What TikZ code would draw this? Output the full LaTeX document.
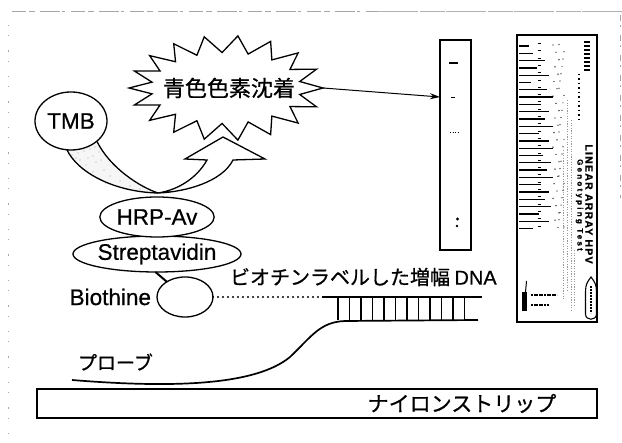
\documentclass[tikz,border=0pt]{standalone}
\usepackage{fontspec}
\setmainfont{Liberation Sans}[FakeBold=0.6]
\newfontfamily\jfont{Noto Sans CJK JP}[FakeBold=0.8]
\newfontfamily\stripfont[LetterSpace=12,FakeBold=1]{Liberation Sans}
\newfontfamily\stripfontwide[LetterSpace=28,FakeBold=1]{Liberation Sans}
\usetikzlibrary{shapes.geometric,arrows.meta,calc,backgrounds}

\begin{document}
\begin{tikzpicture}[x=1pt,y=-1pt,
  every node/.style={inner sep=0pt,outer sep=0pt},
  outline/.style={line width=1.3pt},
  oval/.style={draw,ellipse,outline,fill=white},
  lbl/.style={font=\fontsize{22.5}{22.5}\selectfont},
  jlbl/.style={font=\jfont\fontsize{20}{20}\selectfont},
  strand/.style={line width=1.7pt},
  rung/.style={line width=1.3pt},
  scan/.style={gray!70,line width=0.6pt},
  fineprint/.style={gray!80,line width=0.9pt,dash pattern=on 1.2pt off 1.4pt}
]
\useasboundingbox (0,0) rectangle (622,443);

% scanner edge marks
\draw[scan,dash pattern=on 14pt off 3pt on 6pt off 5pt on 20pt off 2pt on 3pt off 6pt] (12,11) -- (378,11);
\draw[gray!60,line width=0.9pt,dash pattern=on 40pt off 2pt on 25pt off 1pt] (378,11) -- (622,11);
\draw[scan,dash pattern=on 1.5pt off 9pt on 1pt off 14pt] (8,25) -- (8,440);
\draw[scan,dash pattern=on 6pt off 4pt on 2pt off 8pt] (620,15) -- (620,198);

% TMB and the curved reaction arrow
\node[oval,minimum width=72pt,minimum height=58pt,lbl] (tmb) at (71,121) {TMB};
\coordinate (cross) at (158,193);
\begin{scope}[on background layer]
  \fill[gray!7] (tmb.262) .. controls (78,173) and (115,192) .. (cross)
        .. controls (140,187) and (110,168) .. (tmb.-38) -- cycle;
  \foreach \px/\py in {72/155,78/153,84/151,90/149,95/147,80/160,88/158,93/156,
                       86/165,96/162,101/160,93/172,104/170,110/176,120/181,130/186,140/189,
                       76/158,99/152,106/183}
    \fill[gray!70] (\px,\py) circle (0.55pt);
\end{scope}
\draw[outline] (tmb.262) .. controls (78,173) and (115,192) .. (cross);
\draw[outline] (tmb.-38) .. controls (110,168) and (140,187) .. (cross);
\draw[outline,fill=white,line join=miter]
  (cross) .. controls (185,192) and (222,182) .. (233,160) -- (265,159) -- (223,137)
  -- (185,159) -- (207,160) .. controls (197,178) and (178,190) .. (cross) -- cycle;

% blue stain burst
\draw[outline,fill=white,line join=miter]
  plot[variable=\a,samples at={0,10,...,350}]
  ({226+(86+11*cos(18*\a))*cos(\a+3*sin(37*\a))},{88+(44+8.5*cos(18*\a))*sin(\a+3*sin(37*\a))})
  -- cycle;
\coordinate (burstR) at (323,88);
\node[jlbl,font=\jfont\fontsize{22}{22}\selectfont] (stain) at (229,88) {青色色素沈着};

% developed test strip
\node[draw,outline,minimum width=31pt,minimum height=210pt] (strip1) at (455.5,145) {};
\draw[line width=2.2pt] (449,63) -- (458,63);
\draw[line width=1pt] (451,98) -- (455,98);
\draw[line width=1pt,dash pattern=on 1pt off 1.5pt] (450,133) -- (458,133);
\fill (457.5,219) circle (1.6pt);
\fill (457,226) circle (1.3pt);
\draw[line width=1pt,-{Stealth[length=10pt,width=6pt]}] (burstR) -- ($(strip1.north west)+(0,57)$);

% LINEAR ARRAY reference card
\node[draw,outline,minimum width=80pt,minimum height=287pt] (card) at (557,178.5) {};
\foreach \i/\L in {0/10,1/14,2/26,3/18,4/30,5/12,6/28,7/34,8/22,9/30,10/26,11/34,12/20,
                   13/30,14/34,15/24,16/32,17/28,18/34,19/22,20/30,21/26,22/32,23/20,24/30,25/14}{
  \pgfmathsetmacro\yy{46+7.3*\i}
  \draw[line width=1.3pt] (519,\yy) -- ++(\L,0);
  \draw[line width=0.9pt] (538,\yy-2.5) -- ++(3,0);
  \fill ({553+mod(3*\i,7)},\yy-1) circle (0.7pt);
  \fill ({559+mod(5*\i,6)},\yy-1.5) circle (0.6pt);
}
\foreach \y in {42,46,...,70} \draw[line width=1.2pt] (584,\y) -- (590,\y);
\draw[line width=1.4pt,dash pattern=on 1.5pt off 3pt] (579,74) -- (579,120);
\draw[fineprint] (563,150) -- (563,300);
\draw[fineprint] (567,100) -- (567,290);
\draw[fineprint] (571,120) -- (571,310);
\draw[fineprint] (574,250) -- (574,305);
\node[rotate=-90,font=\stripfont\bfseries\fontsize{10.5}{10.5}\selectfont] (brand) at (589,204) {LINEAR ARRAY HPV};
\node[rotate=-90,font=\stripfontwide\bfseries\fontsize{8}{8}\selectfont] (assay) at (579.5,205) {Genotyping Test};
\fill (522,292) rectangle (527,311);
\draw[line width=1pt] (525.5,292) -- (526.5,281);
\draw[line width=1.2pt,dash pattern=on 2pt off 0.6pt] (531,295) -- (557,295);
\draw[line width=1.2pt,dash pattern=on 2pt off 0.6pt] (531,305) -- (549,305);
\draw[line width=1.1pt] (591,277) .. controls (596,284) .. (596.5,292) -- (596.5,314)
  .. controls (596.5,321) and (585.5,321) .. (585.5,314) -- (585.5,292)
  .. controls (586,284) .. (591,277) -- cycle;
\draw[line width=1.5pt,dash pattern=on 2pt off 1pt] (591,286) -- (591,313);

% detection complex
\node[oval,minimum width=126pt,minimum height=36pt,lbl] (strep) at (157,254) {Streptavidin};
\node[oval,minimum width=94pt,minimum height=40pt,lbl] (hrp) at (157,217) {HRP-Av};
\node[oval,minimum width=56pt,minimum height=40pt] (bio) at (185,297) {};
\node[lbl,anchor=east] (biolab) at (151,297) {Biothine};
\draw[line width=2pt] (strep.-95) -- (bio.140);

% labelled amplicon hybridised to the probe
\coordinate (dsA) at (322,297);
\coordinate (dsB) at (482,297);
\coordinate (dsC) at (478,320);
\coordinate (probe0) at (72,380);
\draw[line width=2.2pt,line cap=round,dash pattern=on 0pt off 5pt] (bio.east) -- (dsA);
\draw[strand] (dsA) -- (dsB);
\draw[strand] (probe0) .. controls (170,388) and (255,386) .. (290,357)
  .. controls (312,336) and (320,322) .. (345,321) -- (dsC);
\foreach \i in {0,...,11} \draw[rung] ({338+11.5*\i},297) -- ({338+11.5*\i},320);
\node[jlbl,anchor=west] (dnalab) at (230,277) {ビオチンラベルした増幅 {\rmfamily DNA}};
\node[jlbl,font=\jfont\fontsize{19}{19}\selectfont,anchor=west] (probelab) at (78,362) {プローブ};

% nylon strip
\node[draw,outline,minimum width=560pt,minimum height=29pt] (nylon) at (317,403.5) {};
\node[jlbl,font=\jfont\fontsize{21}{21}\selectfont] (nylonlab) at (462,403.5) {ナイロンストリップ};
\end{tikzpicture}
\end{document}
